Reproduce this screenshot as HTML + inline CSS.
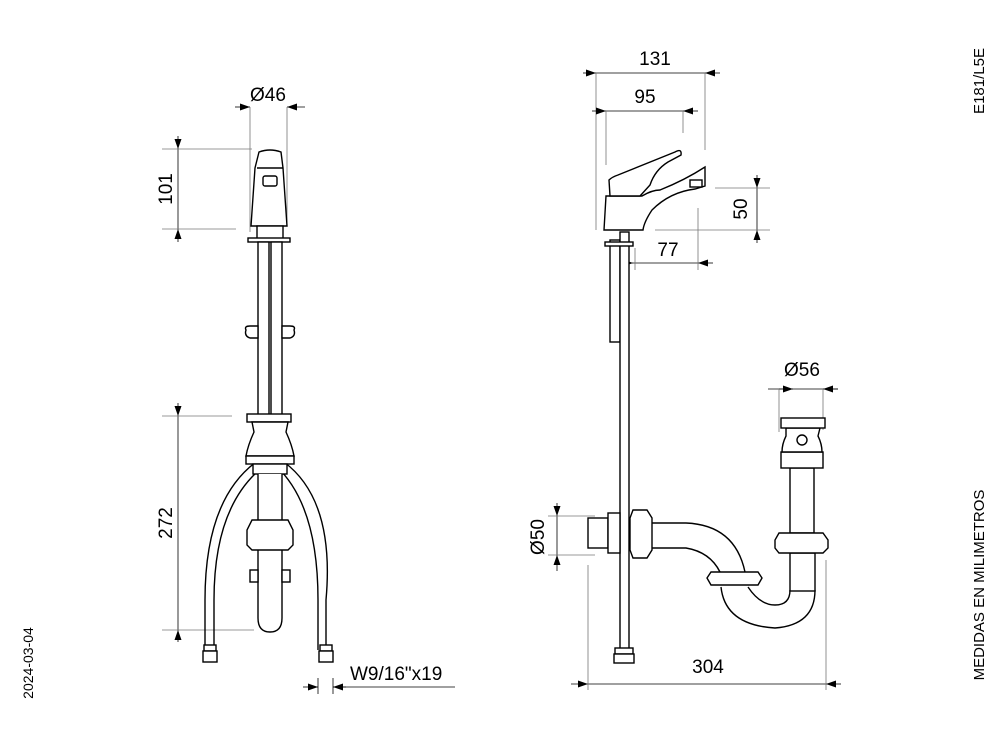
<!DOCTYPE html>
<html><head><meta charset="utf-8"><style>
html,body{margin:0;padding:0;background:#fff;}
svg{display:block;}
text{font-family:"Liberation Sans",sans-serif;fill:#000;}
</style></head><body>
<svg width="1000" height="750" viewBox="0 0 1000 750" xmlns="http://www.w3.org/2000/svg">
<defs>
<marker id="a" viewBox="0 0 10 10" refX="10" refY="5" markerWidth="10" markerHeight="10" markerUnits="userSpaceOnUse" orient="auto"><path d="M0,1.5 L10,5 L0,8.5z" fill="#000"/></marker>
</defs>
<g stroke="#000" stroke-width="0.8" fill="none">
<line x1="235" y1="107" x2="250" y2="107" marker-end="url(#a)"/>
<line x1="305" y1="107" x2="287" y2="107" marker-end="url(#a)"/>
<line x1="250" y1="107" x2="250" y2="232" stroke="#777"/>
<line x1="287" y1="107" x2="287" y2="225" stroke="#777"/>
<line x1="178" y1="136" x2="178" y2="149" marker-end="url(#a)"/>
<line x1="178" y1="242" x2="178" y2="229" marker-end="url(#a)"/>
<line x1="178" y1="149" x2="178" y2="229"/>
<line x1="162" y1="149" x2="252" y2="149" stroke="#777"/>
<line x1="162" y1="229" x2="236" y2="229" stroke="#777"/>
<line x1="178" y1="403" x2="178" y2="416" marker-end="url(#a)"/>
<line x1="178" y1="642" x2="178" y2="630" marker-end="url(#a)"/>
<line x1="178" y1="416" x2="178" y2="630"/>
<line x1="162" y1="416" x2="232" y2="416" stroke="#777"/>
<line x1="162" y1="630" x2="254" y2="630" stroke="#777"/>
<line x1="303" y1="687" x2="318" y2="687" marker-end="url(#a)"/>
<line x1="346" y1="687" x2="333" y2="687" marker-end="url(#a)"/>
<line x1="333" y1="687" x2="455" y2="687"/>
<line x1="318" y1="678" x2="318" y2="694"/>
<line x1="333" y1="678" x2="333" y2="694"/>
</g>
<g stroke="#000" stroke-width="1.4" fill="#fff">
<path d="M259,152 Q270,148 281,152 L283,168 L287,226 L251,226 L255,168z"/>
<path d="M257,168 L283,168" fill="none"/>
<rect x="263" y="176" width="14" height="10" rx="2"/>
<rect x="257" y="226" width="26" height="14"/>
<rect x="248" y="238" width="42" height="4"/>
<rect x="258" y="242" width="11" height="175" fill="#fff"/>
<rect x="271" y="242" width="11" height="175"/>
<path d="M246,330 Q244,336 250,338 L258,338 L258,326 L250,326 Q244,326 246,330z"/>
<path d="M294,330 Q296,336 290,338 L282,338 L282,326 L290,326 Q296,326 294,330z"/>
<path d="M256,462 Q205,500 205,600 L205,650 M264,466 Q214,505 214,600 L214,650" fill="none"/>
<path d="M284,462 Q335,500 326,600 L326,650 M276,466 Q318,505 318,600 L318,650" fill="none"/>
<rect x="247" y="414" width="44" height="8"/>
<path d="M252,422 L288,422 L286,432 Q292,445 294,456 L246,456 Q248,445 254,432z"/>
<rect x="246" y="456" width="48" height="8"/>
<rect x="253" y="464" width="34" height="10"/>
<path d="M258,474 L258,618 Q258,632 270,632 Q282,632 282,618 L282,474"/>
<path d="M252,520 L288,520 L293,530 L293,545 L288,550 L252,550 L247,545 L247,530z"/>
<rect x="250" y="570" width="8" height="12"/>
<rect x="282" y="570" width="8" height="12"/>
<rect x="204" y="645" width="12" height="6"/><rect x="203" y="651" width="14" height="11"/>
<rect x="320" y="645" width="12" height="6"/><rect x="319" y="651" width="14" height="11"/>
</g>
<g stroke="#000" stroke-width="0.8" fill="none">
<line x1="583" y1="73" x2="596" y2="73" marker-end="url(#a)"/>
<line x1="720" y1="73" x2="705" y2="73" marker-end="url(#a)"/>
<line x1="596" y1="73" x2="705" y2="73"/>
<line x1="596" y1="73" x2="596" y2="230" stroke="#777"/>
<line x1="705" y1="73" x2="705" y2="150" stroke="#777"/>
<line x1="592" y1="111" x2="606" y2="111" marker-end="url(#a)"/>
<line x1="698" y1="111" x2="683" y2="111" marker-end="url(#a)"/>
<line x1="606" y1="111" x2="683" y2="111"/>
<line x1="606" y1="111" x2="606" y2="165" stroke="#777"/>
<line x1="683" y1="111" x2="683" y2="133" stroke="#777"/>
<line x1="757" y1="175" x2="757" y2="188" marker-end="url(#a)"/>
<line x1="757" y1="243" x2="757" y2="230" marker-end="url(#a)"/>
<line x1="757" y1="188" x2="757" y2="230"/>
<line x1="715" y1="188" x2="770" y2="188" stroke="#777"/>
<line x1="655" y1="230" x2="770" y2="230" stroke="#777"/>
<line x1="618" y1="263" x2="633" y2="263" marker-end="url(#a)"/>
<line x1="713" y1="263" x2="698" y2="263" marker-end="url(#a)"/>
<line x1="633" y1="263" x2="698" y2="263"/>
<line x1="698" y1="208" x2="698" y2="270" stroke="#777"/>
<line x1="635" y1="248" x2="635" y2="270" stroke="#777"/>
<line x1="768" y1="389" x2="793" y2="389" marker-end="url(#a)"/>
<line x1="838" y1="389" x2="823" y2="389" marker-end="url(#a)"/>
<line x1="779" y1="389" x2="838" y2="389"/>
<line x1="779" y1="389" x2="779" y2="432" stroke="#777"/>
<line x1="823" y1="389" x2="823" y2="430" stroke="#777"/>
<line x1="557" y1="503" x2="557" y2="516" marker-end="url(#a)"/>
<line x1="557" y1="571" x2="557" y2="555" marker-end="url(#a)"/>
<line x1="557" y1="516" x2="557" y2="555"/>
<line x1="548" y1="516" x2="595" y2="516" stroke="#777"/>
<line x1="548" y1="555" x2="595" y2="555" stroke="#777"/>
<line x1="571" y1="684" x2="588" y2="684" marker-end="url(#a)"/>
<line x1="841" y1="684" x2="826" y2="684" marker-end="url(#a)"/>
<line x1="588" y1="684" x2="826" y2="684"/>
<line x1="588" y1="565" x2="588" y2="690" stroke="#777"/>
<line x1="826" y1="560" x2="826" y2="690" stroke="#777"/>
</g>
<g stroke="#000" stroke-width="1.4" fill="#fff">
<rect x="610" y="240" width="10" height="102"/>
<rect x="620" y="232" width="9" height="418"/>
<rect x="605" y="242" width="28" height="4"/>
<path d="M604,230 L606,196 L642,196 Q652,190 660,190 Q685,180 705,167 L705,186 L695,189 Q670,192 652,210 Q644,222 643,230z"/>
<path d="M609,180 Q612,177 618,175 L675,152 Q682,148 681,155 L668,162 Q655,170 650,185 L640,196 L610,196z"/>
<rect x="690" y="180" width="12" height="7"/>
<rect x="615" y="648" width="18" height="6"/><rect x="614" y="654" width="20" height="9"/>
<rect x="588" y="518" width="20" height="30"/>
<rect x="608" y="513" width="12" height="40"/>
<path d="M645,523 L686,523 Q735,525 745,572 M645,548 L686,548 Q710,552 720,572" fill="none"/>
<path d="M633,510 L647,510 L652,518 L652,550 L647,558 L633,558 L630,550 L630,518z"/>
<path d="M721,587 Q725,625 775,628 Q815,625 815,590 M748,587 Q760,605 775,605 Q790,605 790,590" fill="none"/>
<path d="M711,572 L758,572 L762,578 L758,585 L711,585 L707,578z"/>
<rect x="790" y="553" width="25" height="38"/>
<rect x="790" y="468" width="24" height="65"/>
<path d="M779,533 L823,533 L828,540 L828,548 L823,553 L779,553 L775,548 L775,540z"/>
<rect x="781" y="452" width="42" height="16"/>
<path d="M786,428 L820,428 L818,436 Q822,444 822,452 L782,452 Q782,444 786,436z"/>
<rect x="781" y="418" width="44" height="10"/>
<circle cx="802" cy="440" r="5"/>
</g>
<g font-size="19">
<text x="268" y="101" text-anchor="middle">Ø46</text>
<text transform="translate(172,189) rotate(-90)" text-anchor="middle">101</text>
<text transform="translate(172,523) rotate(-90)" text-anchor="middle">272</text>
<text x="350" y="680">W9/16"x19</text>
<text x="655" y="65" text-anchor="middle">131</text>
<text x="645" y="103" text-anchor="middle">95</text>
<text transform="translate(747,209) rotate(-90)" text-anchor="middle">50</text>
<text x="668" y="256" text-anchor="middle">77</text>
<text x="802" y="376" text-anchor="middle">Ø56</text>
<text transform="translate(544,537) rotate(-90)" text-anchor="middle">Ø50</text>
<text x="708" y="673" text-anchor="middle">304</text>
</g>
<g font-size="15">
<text transform="translate(984,81) rotate(-90)" text-anchor="middle">E181/L5E</text>
<text transform="translate(984,585) rotate(-90)" text-anchor="middle">MEDIDAS EN MILIMETROS</text>
<text transform="translate(33,663) rotate(-90)" text-anchor="middle" font-size="14">2024-03-04</text>
</g>
</svg>
</body></html>
